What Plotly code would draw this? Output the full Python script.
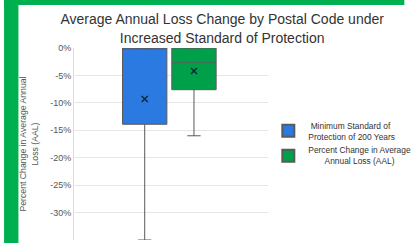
import plotly.graph_objects as go

categories = ["Minimum Standard of<br>Protection of 200 Years",
              "Percent Change in Average<br>Annual Loss (AAL)"]
legend_names = ["\u00a0Minimum Standard of<br>Protection of 200 Years",
                "Percent Change in Average<br>" + "\u00a0" * 7 + "Annual Loss (AAL)"]
colors = ["#2a7ae2", "#00a04a"]
q1 = [-13.9, -7.6]
median = [0.0, -2.7]
q3 = [0.0, 0.0]
lowerfence = [-35.0, -16.0]
upperfence = [0.0, 0.0]
means = [-9.3, -4.2]
tick_vals = [0, -5, -10, -15, -20, -25, -30, -35]
tick_text = ["0%", "-5%", "-10%", "-15%", "-20%", "-25%", "-30%", "-35%"]
title_text = "Average Annual Loss Change by Postal Code under<br>Increased Standard of Protection"

fig = go.Figure()
for i, name in enumerate(categories):
    fig.add_trace(go.Box(
        x=[name], name=legend_names[i],
        q1=[q1[i]], median=[median[i]], q3=[q3[i]],
        lowerfence=[lowerfence[i]], upperfence=[upperfence[i]],
        fillcolor=colors[i], line=dict(color="#5a5a5a", width=1),
        whiskerwidth=0.3, width=0.9, boxpoints=False, showlegend=True,
    ))
fig.add_trace(go.Scatter(
    x=categories, y=means, mode="markers",
    marker=dict(symbol="x-thin", size=6, line=dict(color="#0a2a3a", width=1.5)),
    showlegend=False, hoverinfo="skip"))

fig.update_layout(
    width=416, height=243,
    margin=dict(l=74, r=129, t=48, b=3),
    paper_bgcolor="white", plot_bgcolor="white",
    font=dict(family="Liberation Sans, Arial, sans-serif", color="#444"),
    title=dict(text=title_text, xref="container", yref="container",
               x=0.534, xanchor="center", y=0.9, yanchor="middle",
               font=dict(size=14, color="#333")),
    xaxis=dict(range=[-1.435, 2.509], showticklabels=False, showgrid=False,
               showline=False, zeroline=False, ticks="", automargin=False),
    yaxis=dict(range=[-35, 0], tickvals=tick_vals, ticktext=tick_text,
               tickfont=dict(size=9, color="#555"), gridcolor="#e6e6e6",
               zeroline=False, showline=True, linecolor="#dddddd", ticks="",
               automargin=False,
               title=dict(text="Percent Change in Average Annual<br>Loss (AAL)",
                          font=dict(size=8.7, color="#555"), standoff=10)),
    legend=dict(xref="container", yref="container", x=0.645, y=0.41,
                xanchor="left", yanchor="middle",
                font=dict(size=8.4, color="#333"), itemsizing="constant",
                bgcolor="rgba(0,0,0,0)", tracegroupgap=4),
    showlegend=True,
)

# green frame
fig.add_shape(type="rect", xref="paper", yref="paper", x0=-0.36, x1=-0.286,
              y0=-0.05, y1=1.3, fillcolor="#00b050", line=dict(width=0), layer="above")
fig.add_shape(type="rect", xref="paper", yref="paper", x0=-0.36, x1=1.7,
              y0=1.224, y1=1.3, fillcolor="#00b050", line=dict(width=0), layer="above")

fig.write_html("out.html", config={"displayModeBar": False},
               post_script="document.body.style.margin='0px';")
